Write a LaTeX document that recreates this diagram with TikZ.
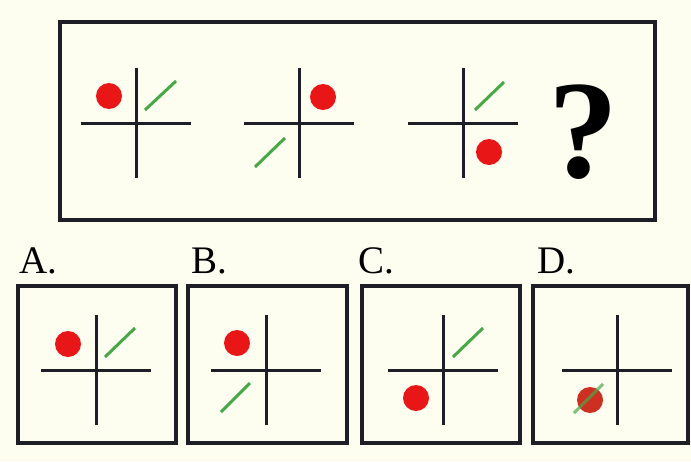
\documentclass[tikz,border=0pt]{standalone}
\usepackage{fontspec}
\setmainfont{Liberation Serif}
\usetikzlibrary{positioning}
\definecolor{paper}{RGB}{254,254,240}
\definecolor{ink}{RGB}{30,30,38}
\definecolor{dotred}{RGB}{232,22,22}
\definecolor{dotbrown}{RGB}{205,48,32}
\definecolor{stickgreen}{RGB}{72,168,72}

\begin{document}
\begin{tikzpicture}[x=0.5pt,y=-0.5pt,
    panel/.style={draw=ink,line width=2pt,inner sep=0pt},
    hair/.style={draw=ink,line width=1.5pt},
    dot/.style={fill=dotred,draw=none},
    stick/.style={draw=stickgreen,line width=1.5pt},
    letter/.style={anchor=base west,inner sep=0pt,font=\fontsize{19.5}{20}\selectfont}]
  \fill[paper] (0,0) rectangle (691,461);
  \useasboundingbox (0,0) rectangle (691,461);

  % question row
  \node[panel,minimum width=297.5pt,minimum height=99pt] (row) at (357.5,121) {};
  \node[anchor=base,inner sep=0pt,font=\fontsize{70}{70}\selectfont\bfseries] (ask) at (583,177) {?};

  % answer boxes
  \node[panel,minimum width=79pt,minimum height=78.5pt] (boxa) at (97,364.5) {};
  \node[panel,minimum width=79.5pt,minimum height=78.5pt] (boxb) at (267.5,364.5) {};
  \node[panel,minimum width=79pt,minimum height=78.5pt] (boxc) at (441,364.5) {};
  \node[panel,minimum width=77.5pt,minimum height=78.5pt] (boxd) at (610.5,364.5) {};
  \node[letter] (laba) at (19,273) {A.};
  \node[letter] (labb) at (191,273) {B.};
  \node[letter] (labc) at (358,273) {C.};
  \node[letter] (labd) at (537,273) {D.};

  % crosses
  \foreach \cx/\cy in {136/123,299/123,463/123,96/370,266/370,443/370,617/370}{
    \begin{scope}[shift={(\cx,\cy)}]
      \draw[hair] (-55,0) -- (55,0);
      \draw[hair] (0,-55) -- (0,55);
    \end{scope}
  }

  % dots and sticks, top row
  \fill[dot] (109,96) circle (6.5pt);
  \draw[stick] (145,110) -- (176,81);
  \fill[dot] (323,97) circle (6.5pt);
  \draw[stick] (255,167) -- (285,138);
  \fill[dot] (489,152) circle (6.5pt);
  \draw[stick] (475,110) -- (504,82);

  % dots and sticks, answers
  \fill[dot] (68,344) circle (6.5pt);
  \draw[stick] (105,357) -- (135,328);
  \fill[dot] (237,343) circle (6.5pt);
  \draw[stick] (221,412) -- (250,383);
  \fill[dot] (416,398) circle (6.5pt);
  \draw[stick] (453,357) -- (483,328);
  \fill[dotbrown] (590,400) circle (6.5pt);
  \draw[stick,opacity=0.7] (574,413) -- (603,384);
\end{tikzpicture}
\end{document}
